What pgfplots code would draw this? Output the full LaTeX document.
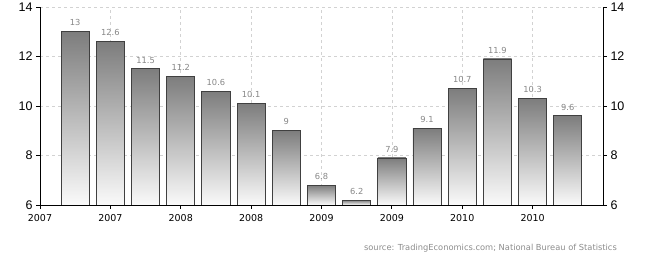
\documentclass[border=0pt]{standalone}
\usepackage{fontspec}
\setmainfont{Liberation Sans}
\newfontfamily\dejavu{DejaVu Sans}
\usepackage{pgfplots}
\pgfplotsset{compat=1.18}
\definecolor{barline}{RGB}{64,64,64}
\definecolor{bartop}{RGB}{125,125,125}
\definecolor{barbot}{RGB}{250,250,250}
\definecolor{lbl}{RGB}{135,135,135}
\definecolor{gridc}{RGB}{210,210,210}
\pgfplotsset{gbar/.style={ybar, bar width=0.4, draw=barline, line width=0.8pt,
  top color=bartop, bottom color=barbot,
  nodes near coords,
  every node near coord/.append style={font=\dejavu\fontsize{8.3}{10}\selectfont, text=lbl, yshift=2pt}}}
\begin{document}
\begin{tikzpicture}[x=1pt,y=1pt]
\path[use as bounding box] (0,0) rectangle (654,264);
\begin{axis}[
  at={(40pt,59pt)}, anchor=south west,
  scale only axis, width=563pt, height=198pt,
  xmin=0, xmax=8, ymin=6, ymax=14,
  axis x line*=bottom, axis y line*=left,
  axis line style={black, line width=0.9pt, -},
  xtick={0,...,7},
  xticklabels={2007,2007,2008,2008,2009,2009,2010,2010},
  ytick={6,8,10,12,14},
  tick align=outside, major tick length=4pt,
  tick style={black, line width=0.9pt},
  grid=major, grid style={dashed, gridc, line width=0.6pt},
  /pgf/number format/assume math mode=true,
  xticklabel style={font=\dejavu\fontsize{9.5}{11}\selectfont, yshift=-2pt},
  yticklabel style={font=\fontsize{12.5}{14}\selectfont},
]
\addplot[gbar] coordinates {(0.5,13)};
\addplot[gbar] coordinates {(1.0,12.6)};
\addplot[gbar] coordinates {(1.5,11.5)};
\addplot[gbar] coordinates {(2.0,11.2)};
\addplot[gbar] coordinates {(2.5,10.6)};
\addplot[gbar] coordinates {(3.0,10.1)};
\addplot[gbar] coordinates {(3.5,9)};
\addplot[gbar] coordinates {(4.0,6.8)};
\addplot[gbar] coordinates {(4.5,6.2)};
\addplot[gbar] coordinates {(5.0,7.9)};
\addplot[gbar] coordinates {(5.5,9.1)};
\addplot[gbar] coordinates {(6.0,10.7)};
\addplot[gbar] coordinates {(6.5,11.9)};
\addplot[gbar] coordinates {(7.0,10.3)};
\addplot[gbar] coordinates {(7.5,9.6)};
\end{axis}
\begin{axis}[
  at={(40pt,59pt)}, anchor=south west,
  scale only axis, width=563pt, height=198pt,
  xmin=0, xmax=8, ymin=6, ymax=14,
  axis y line*=right, axis x line=none,
  axis line style={black, line width=0.9pt, -},
  xtick=\empty,
  ytick={6,8,10,12,14},
  tick align=outside, major tick length=4pt,
  tick style={black, line width=0.9pt},
  /pgf/number format/assume math mode=true,
  yticklabel style={font=\fontsize{12.5}{14}\selectfont},
]
\addplot[draw=none] coordinates {(0,6) (8,14)};
\end{axis}
\node[anchor=east, text={rgb,255:red,140;green,140;blue,140}, font=\dejavu\fontsize{8.3}{10}\selectfont, inner sep=0pt] at (617,16) {source: TradingEconomics.com; National Bureau of Statistics};
\end{tikzpicture}
\end{document}
